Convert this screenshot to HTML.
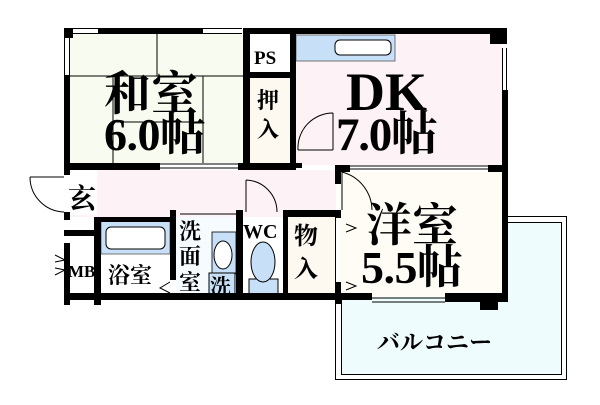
<!DOCTYPE html>
<html><head><meta charset="utf-8"><style>
html,body{margin:0;padding:0;background:#fff;width:600px;height:405px;overflow:hidden}
svg{display:block}
text{font-family:"Liberation Serif","Noto Serif CJK SC","Noto Sans CJK JP",serif;fill:#000;font-weight:bold}
</style></head><body>
<svg width="600" height="405" viewBox="0 0 600 405" xmlns="http://www.w3.org/2000/svg">
<rect x="335.5" y="216.5" width="231" height="163" fill="#fff" stroke="#000"/>
<rect x="341.5" y="222.5" width="220" height="152" fill="#eefcfd" stroke="#000"/>
<rect x="70" y="34" width="173" height="129" fill="#f8fbf0"/>
<rect x="250" y="34" width="40" height="38" fill="#fff"/>
<rect x="250" y="78" width="40" height="85" fill="#fdf8f0"/>
<rect x="296" y="34" width="206" height="131" fill="#fdf2f5"/>
<rect x="296" y="35" width="99" height="26" fill="#c7e0f8" stroke="#555" stroke-width="0.8"/>
<rect x="335" y="40" width="56" height="15" rx="5" fill="#fff" stroke="#000"/>
<rect x="70" y="170" width="266" height="47" fill="#fdf2f5"/>
<rect x="70" y="170" width="27" height="45" fill="#fff"/>
<rect x="340" y="172" width="162" height="125" fill="#fffcf5"/>
<rect x="288" y="217" width="47" height="81" fill="#fdf8f0"/>
<rect x="101" y="220" width="69" height="73" fill="#fff"/>
<rect x="101" y="220" width="69" height="34" fill="#c7e0f8" stroke="#555" stroke-width="0.8"/>
<rect x="106" y="227" width="59" height="22" rx="5" fill="#fff" stroke="#000"/>
<rect x="176" y="217" width="60" height="82" fill="#f6fbff"/>
<rect x="243" y="217" width="40" height="82" fill="#fff"/>
<rect x="249" y="279" width="29" height="15" fill="#c7e0f8" stroke="#000"/>
<ellipse cx="263" cy="262" rx="12" ry="20" fill="#c7e0f8" stroke="#000"/>
<rect x="212" y="232" width="24" height="42" fill="#c7e0f8" stroke="#000" stroke-width="0.8"/>
<ellipse cx="223" cy="255" rx="9" ry="14" fill="#fff" stroke="#000"/>
<rect x="209" y="273" width="26" height="24" fill="#c7e0f8" stroke="#000"/>
<g stroke="#000" stroke-width="1" fill="none">
<line x1="157" y1="34" x2="157" y2="76"/><line x1="70" y1="76" x2="243" y2="76"/>
<line x1="113" y1="76" x2="113" y2="163"/><line x1="113" y1="122" x2="203" y2="122"/>
<line x1="203" y1="76" x2="203" y2="163"/>
<path d="M30 177 L64 177 M30 177 A35 35 0 0 0 64 212"/>
<path d="M246 180 L246 212 M246 180 A32 32 0 0 1 277 212"/>
<path d="M298 150 L333 150 M333 113 L333 150 M298 150 A35 35 0 0 1 333 113"/>
<path d="M342 172 L342 210 M342 172 A40 40 0 0 1 372 210"/>
<path d="M55 255 L65 260 L55 262 M55 275 L65 270 L55 268"/>
<path d="M346 224 L356 228 L346 232 M346 282 L356 286 L346 290"/>
<path d="M170 282 L160 288 L170 293"/>
</g>
<g stroke="#000" stroke-width="1">
<line x1="73" y1="28.5" x2="98" y2="28.5"/><line x1="73" y1="33.5" x2="98" y2="33.5"/>
<line x1="203" y1="28.5" x2="242" y2="28.5"/><line x1="203" y1="33.5" x2="242" y2="33.5"/>
<line x1="64.5" y1="38" x2="64.5" y2="75"/><line x1="69.5" y1="38" x2="69.5" y2="75"/>
<line x1="160" y1="164" x2="238" y2="164"/><line x1="160" y1="168" x2="238" y2="168"/>
<line x1="350" y1="166" x2="488" y2="166"/><line x1="350" y1="169" x2="488" y2="169"/>
<line x1="372" y1="298" x2="445" y2="298"/><line x1="372" y1="302" x2="445" y2="302"/>
<line x1="502.5" y1="48" x2="502.5" y2="90"/><line x1="506.5" y1="48" x2="506.5" y2="90"/>
<line x1="246" y1="80" x2="246" y2="160"/><line x1="248" y1="80" x2="248" y2="160"/>
<line x1="180" y1="214" x2="236" y2="214"/>
</g>
<g fill="#000">
<rect x="64" y="28" width="9" height="10"/>
<rect x="98" y="28" width="105" height="6"/>
<rect x="64" y="75" width="6" height="100"/>
<rect x="243" y="28" width="53" height="6"/>
<rect x="296" y="28" width="211" height="6"/>
<rect x="490" y="28" width="17" height="16"/>
<rect x="502" y="90" width="6" height="212"/>
<rect x="243" y="34" width="7" height="136"/>
<rect x="290" y="34" width="6" height="136"/>
<rect x="250" y="72" width="40" height="6"/>
<rect x="64" y="163" width="96" height="7"/>
<rect x="238" y="163" width="58" height="7"/>
<rect x="296" y="163" width="6" height="5"/>
<rect x="335" y="165" width="15" height="7"/>
<rect x="488" y="165" width="20" height="7"/>
<rect x="335" y="172" width="6" height="12"/>
<rect x="64" y="212" width="6" height="8"/>
<rect x="64" y="243" width="6" height="62"/>
<rect x="64" y="230" width="36" height="6"/>
<rect x="94" y="217" width="82" height="5"/>
<rect x="94" y="217" width="7" height="88"/>
<rect x="170" y="210" width="6" height="70"/>
<rect x="170" y="293" width="6" height="7"/>
<rect x="236" y="210" width="7" height="90"/>
<rect x="283" y="210" width="5" height="90"/>
<rect x="288" y="210" width="52" height="7"/>
<rect x="335" y="210" width="6" height="8"/>
<rect x="335" y="282" width="6" height="22"/>
<rect x="64" y="293" width="308" height="7"/>
<rect x="445" y="293" width="63" height="9"/>
<rect x="480" y="293" width="18" height="17"/>
</g>
<text x="254" y="64" font-size="19">PS</text>
<text x="257" y="108" font-size="22">押</text>
<text x="257" y="137" font-size="22">入</text>
<text x="104" y="110" font-size="47">和室</text>
<text x="104" y="150" font-size="46" textLength="102">6.0帖</text>
<text x="346" y="110" font-size="54">DK</text>
<text x="336" y="150" font-size="47" textLength="102">7.0帖</text>
<text x="366" y="241" font-size="46">洋室</text>
<text x="361" y="283" font-size="46" textLength="102">5.5帖</text>
<text x="68" y="208" font-size="28">玄</text>
<text x="68" y="277" font-size="17">MB</text>
<text x="108" y="283" font-size="22">浴室</text>
<text x="179" y="239" font-size="22">洗</text>
<text x="179" y="264" font-size="22">面</text>
<text x="179" y="290" font-size="22">室</text>
<text x="210" y="294" font-size="21">洗</text>
<text x="243" y="238" font-size="20">WC</text>
<text x="294" y="244" font-size="24">物</text>
<text x="294" y="277" font-size="24">入</text>
<text x="377" y="350" font-size="23">バルコニー</text>
</svg>
</body></html>
